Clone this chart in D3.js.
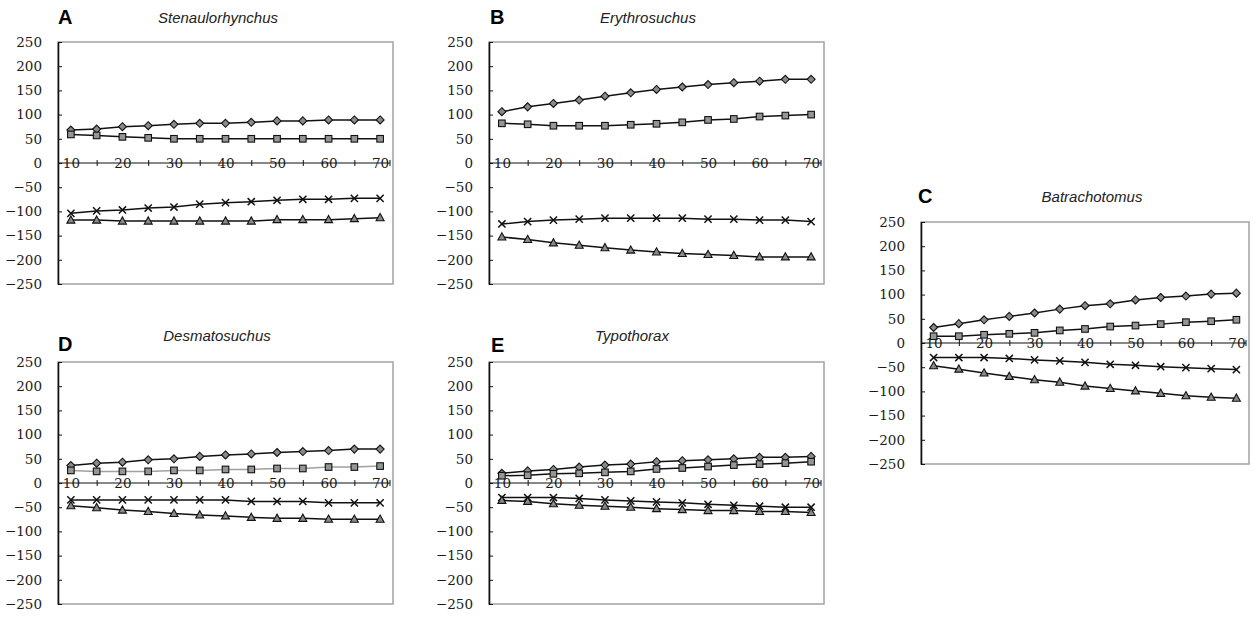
<!DOCTYPE html>
<html>
<head>
<meta charset="utf-8">
<script src="https://cdn.jsdelivr.net/npm/d3@7"></script>
<style>
  body { margin: 0; background: #fff; }
  svg { display: block; }
</style>
</head>
<body>
<div id="chart"></div>
<script>
// x categories shared by every panel
var categories = [10, 15, 20, 25, 30, 35, 40, 45, 50, 55, 60, 65, 70];
var yTicks = [250, 200, 150, 100, 50, 0, -50, -100, -150, -200, -250];

// A  Stenaulorhynchus
var stenDiamond  = [68, 70, 75, 77, 80, 82, 82, 84, 87, 87, 89, 89, 89];
var stenSquare   = [59, 57, 54, 52, 50, 50, 50, 50, 50, 50, 50, 50, 50];
var stenCross    = [-104, -99, -97, -93, -91, -85, -82, -80, -77, -75, -75, -73, -73];
var stenTriangle = [-118, -118, -120, -120, -120, -120, -120, -120, -117, -117, -117, -115, -113];

// B  Erythrosuchus
var eryDiamond  = [106, 116, 123, 130, 138, 145, 152, 157, 162, 166, 169, 173, 173];
var erySquare   = [82, 80, 77, 77, 77, 79, 81, 84, 89, 91, 96, 98, 100];
var eryCross    = [-126, -121, -118, -116, -114, -114, -114, -114, -116, -116, -118, -118, -121];
var eryTriangle = [-153, -158, -165, -170, -175, -180, -184, -187, -189, -191, -194, -194, -194];

// C  Batrachotomus
var batDiamond  = [32, 40, 48, 55, 62, 70, 77, 81, 89, 94, 97, 101, 103];
var batSquare   = [14, 14, 17, 19, 21, 26, 29, 34, 36, 39, 43, 45, 48];
var batCross    = [-30, -30, -30, -32, -35, -37, -40, -44, -46, -49, -51, -53, -55];
var batTriangle = [-47, -54, -62, -69, -76, -81, -89, -94, -99, -104, -109, -112, -114];

// D  Desmatosuchus
var desDiamond  = [36, 41, 43, 48, 50, 55, 58, 60, 63, 65, 67, 70, 70];
var desSquare   = [26, 24, 24, 24, 26, 26, 28, 28, 30, 30, 33, 33, 35];
var desCross    = [-35, -35, -35, -35, -35, -35, -35, -38, -38, -38, -41, -41, -41];
var desTriangle = [-47, -51, -56, -59, -63, -66, -68, -71, -73, -73, -75, -75, -75];

// E  Typothorax
var typDiamond  = [20, 25, 28, 33, 37, 39, 44, 46, 48, 50, 53, 53, 55];
var typSquare   = [15, 16, 19, 20, 22, 24, 29, 31, 34, 37, 39, 41, 44];
var typCross    = [-30, -30, -30, -32, -35, -37, -39, -41, -44, -46, -48, -50, -50];
var typTriangle = [-36, -38, -43, -46, -48, -50, -53, -55, -57, -57, -59, -59, -61];

var panels = [
  { letter: "A", title: "Stenaulorhynchus", left: 58, right: 393, top: 42, bottom: 284,
    lx: 58, ly: 24, tx: 218, ty: 23,
    series: [stenDiamond, stenSquare, stenCross, stenTriangle] },
  { letter: "B", title: "Erythrosuchus", left: 489, right: 824, top: 42, bottom: 284,
    lx: 490, ly: 24, tx: 648, ty: 23,
    series: [eryDiamond, erySquare, eryCross, eryTriangle] },
  { letter: "C", title: "Batrachotomus", left: 921, right: 1249, top: 222, bottom: 464,
    lx: 918, ly: 203, tx: 1092, ty: 202,
    series: [batDiamond, batSquare, batCross, batTriangle] },
  { letter: "D", title: "Desmatosuchus", left: 58, right: 393, top: 362, bottom: 604,
    lx: 58, ly: 351, tx: 217, ty: 341, squareLine: "#a0a0a0",
    series: [desDiamond, desSquare, desCross, desTriangle] },
  { letter: "E", title: "Typothorax", left: 489, right: 824, top: 362, bottom: 604,
    lx: 491, ly: 352, tx: 632, ty: 341,
    series: [typDiamond, typSquare, typCross, typTriangle] }
];

var markers = ["diamond", "square", "cross", "triangle"];

var svg = d3.select("#chart")
    .append("svg")
    .attr("width", 1258)
    .attr("height", 617);

var serif = "DejaVu Serif";
var sans = "Liberation Sans";

panels.forEach(function(p) {
    var x = d3.scalePoint().domain(categories).range([p.left, p.right]).padding(0.5);
    var y = d3.scaleLinear().domain([-250, 250]).range([p.bottom, p.top]);

    var g = svg.append("g");

    // panel letter and title
    g.append("text")
        .attr("x", p.lx).attr("y", p.ly)
        .attr("font-family", sans).attr("font-weight", "bold").attr("font-size", 20)
        .text(p.letter);
    g.append("text")
        .attr("x", p.tx).attr("y", p.ty)
        .attr("text-anchor", "middle")
        .attr("font-family", sans).attr("font-style", "italic").attr("font-size", 15)
        .attr("fill", "#222")
        .text(p.title);

    // gray plot frame
    g.append("rect")
        .attr("x", p.left).attr("y", p.top)
        .attr("width", p.right - p.left).attr("height", p.bottom - p.top)
        .attr("fill", "none").attr("stroke", "#a8a8a8").attr("stroke-width", 1.6);

    // y axis, ticks pointing inward
    var yAxis = g.append("g")
        .attr("transform", "translate(" + p.left + ",0)")
        .call(d3.axisLeft(y).tickValues(yTicks).tickSizeInner(-4).tickSizeOuter(0).tickPadding(16));
    yAxis.attr("font-family", serif).attr("font-size", 13.5);
    yAxis.select(".domain").attr("stroke", "#111").attr("stroke-width", 1.6);
    yAxis.selectAll(".tick line").attr("stroke", "#111").attr("stroke-width", 1);
    yAxis.selectAll(".tick text").attr("fill", "#1a1a1a");

    // x axis through zero, labels sitting on the line
    var xAxis = g.append("g")
        .attr("transform", "translate(0," + y(0) + ")")
        .call(d3.axisBottom(x).tickSizeOuter(0).tickSizeInner(3)
            .tickFormat(function(d, i) { return i % 2 === 0 ? d : ""; }));
    xAxis.attr("font-family", serif).attr("font-size", 13.5);
    xAxis.select(".domain")
        .attr("d", "M" + p.left + ",0H" + (p.right - 3))
        .attr("stroke", "#111").attr("stroke-width", 1.1);
    xAxis.selectAll(".tick line")
        .attr("y1", -3).attr("y2", 3)
        .attr("stroke", "#111")
        .attr("display", function(d, i) { return i % 2 === 1 ? null : "none"; });
    xAxis.selectAll(".tick text")
        .attr("y", 0).attr("dy", "0.36em").attr("fill", "#1a1a1a");
    xAxis.append("line")
        .attr("x1", p.right - 3).attr("x2", p.right - 3).attr("y1", -3).attr("y2", 3)
        .attr("stroke", "#111");

    var line = d3.line()
        .x(function(d, i) { return x(categories[i]); })
        .y(function(d) { return y(d); });

    // lines first, then markers on top
    p.series.forEach(function(s, k) {
        g.append("path")
            .datum(s)
            .attr("d", line)
            .attr("fill", "none")
            .attr("stroke", (k === 1 && p.squareLine) ? p.squareLine : "#111")
            .attr("stroke-width", 1.5);
    });

    p.series.forEach(function(s, k) {
        var type = markers[k];
        var pts = g.selectAll(".m" + k)
            .data(s)
            .enter().append("g")
            .attr("transform", function(d, i) { return "translate(" + x(categories[i]) + "," + y(d) + ")"; });

        if (type === "diamond") {
            pts.append("path").attr("d", "M0,-4L4,0L0,4L-4,0Z")
                .attr("fill", "#8a8a8a").attr("stroke", "#111").attr("stroke-width", 1.1);
        } else if (type === "square") {
            pts.append("rect").attr("x", -3.3).attr("y", -3.3).attr("width", 6.6).attr("height", 6.6)
                .attr("fill", "#959595").attr("stroke", "#111").attr("stroke-width", 1.1);
        } else if (type === "cross") {
            pts.append("path").attr("d", "M-3.6,-3.6L3.6,3.6M-3.6,3.6L3.6,-3.6")
                .attr("stroke", "#111").attr("stroke-width", 1.5);
        } else {
            pts.append("path").attr("d", "M0,-4.2L4,3L-4,3Z")
                .attr("fill", "#8a8a8a").attr("stroke", "#111").attr("stroke-width", 1.1);
        }
    });
});
</script>
</body>
</html>
